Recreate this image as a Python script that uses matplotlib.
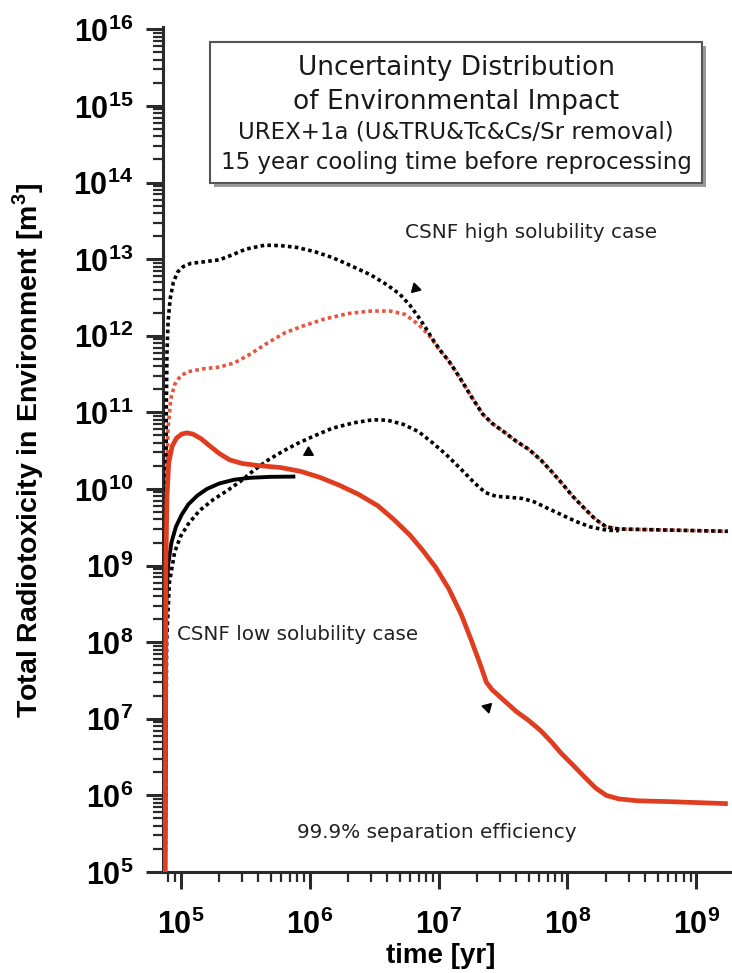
import math
import matplotlib
matplotlib.use('Agg')
import matplotlib.pyplot as plt
from matplotlib.ticker import LogLocator, FuncFormatter, NullFormatter
from matplotlib.patches import Rectangle

plt.rcParams['mathtext.fontset'] = 'custom'
plt.rcParams['mathtext.bf'] = 'Liberation Sans:bold'
plt.rcParams['mathtext.rm'] = 'Liberation Sans'

RED = '#e03c1f'; RED_DOT = '#e8553f'; AXC = '#2a2a2a'

# upper black dotted (high solubility, upper bound)
hi_t = [7.6e4, 7.65e4, 7.75e4, 7.85e4, 8.0e4, 8.3e4, 8.8e4, 9.5e4, 1.05e5, 1.2e5, 1.5e5, 2.0e5, 2.5e5,
        3.2e5, 4.5e5, 6e5, 8e5, 1.1e6, 1.5e6, 2.0e6, 3e6, 4e6, 5e6, 6e6, 7e6, 8e6, 9e6, 1.05e7,
        1.2e7, 1.45e7, 1.8e7, 2.2e7, 2.6e7, 3.2e7, 4e7, 5e7, 6.2e7, 7.5e7, 9e7, 1.1e8, 1.35e8, 1.65e8,
        2e8, 2.5e8, 4e8, 1.75e9]
hi_v = [1e5, 1e9, 1e11, 6e11, 1.5e12, 3e12, 5e12, 6.8e12, 8e12, 8.8e12, 9.2e12, 9.8e12, 1.13e13,
        1.35e13, 1.52e13, 1.5e13, 1.42e13, 1.25e13, 1.05e13, 8.5e12, 6.2e12, 4.6e12, 3.5e12, 2.5e12,
        1.75e12, 1.25e12, 9e11, 6.2e11,
        4.7e11, 2.9e11, 1.6e11, 9.5e10, 7.2e10, 5.6e10, 4.2e10, 3.3e10, 2.4e10, 1.7e10, 1.2e10, 8e9,
        5.6e9, 4.0e9, 3.2e9, 3.0e9, 2.95e9, 2.8e9]
# red dotted
rd_t = [7.6e4, 7.7e4, 7.8e4, 8.0e4, 8.4e4, 9e4, 1.0e5, 1.15e5, 1.5e5, 2e5, 2.6e5, 3.5e5, 4.7e5, 6.5e5,
        9e5, 1.3e6, 2e6, 3e6, 4.2e6, 5.5e6, 7e6, 8.5e6, 1.0e7,
        1.2e7, 1.45e7, 1.8e7, 2.2e7, 2.6e7, 3.2e7, 4e7, 5e7, 6.2e7, 7.5e7, 9e7, 1.1e8, 1.35e8, 1.65e8,
        2e8, 2.5e8, 4e8, 1.75e9]
rd_v = [1e5, 1e9, 1e10, 6e10, 1.5e11, 2.3e11, 3.0e11, 3.4e11, 3.7e11, 3.9e11, 4.4e11, 5.8e11, 8.0e11,
        1.1e12, 1.35e12, 1.65e12, 1.95e12, 2.1e12, 2.1e12, 1.9e12, 1.4e12, 1.0e12, 6.8e11,
        4.7e11, 2.9e11, 1.6e11, 9.5e10, 7.2e10, 5.6e10, 4.2e10, 3.3e10, 2.4e10, 1.7e10, 1.2e10, 8e9,
        5.6e9, 4.0e9, 3.2e9, 3.0e9, 2.95e9, 2.8e9]
# lower black dotted
lo_t = [7.6e4, 7.8e4, 8.2e4, 9e4, 1.0e5, 1.15e5, 1.4e5, 1.8e5, 2.3e5, 2.9e5, 3.7e5, 4.8e5, 6.2e5, 8e5,
        1.05e6, 1.5e6, 2.2e6, 3.1e6, 4e6, 5.3e6, 7e6, 9e6, 1.15e7, 1.5e7, 1.9e7, 2.3e7, 2.8e7, 3.5e7,
        4.5e7, 5.5e7, 7e7, 9e7, 1.15e8, 1.5e8, 2e8, 2.5e8]
lo_v = [1e5, 1e8, 6e8, 1.5e9, 2.4e9, 3.5e9, 5.2e9, 7.3e9, 9.5e9, 1.25e10, 1.75e10, 2.4e10, 3.1e10, 3.9e10,
        4.8e10, 6.2e10, 7.3e10, 8.0e10, 7.9e10, 7.0e10, 5.6e10, 4.0e10, 2.8e10, 1.8e10, 1.2e10, 9.0e9,
        8.0e9, 7.8e9, 7.5e9, 6.8e9, 5.6e9, 4.6e9, 3.8e9, 3.2e9, 2.9e9, 2.85e9]
# black solid
bs_t = [7.6e4, 7.75e4, 8.0e4, 8.5e4, 9.2e4, 1.02e5, 1.15e5, 1.35e5, 1.6e5, 2e5, 2.6e5, 3.5e5, 5e5, 7.5e5]
bs_v = [1e5, 3e8, 1.0e9, 2.0e9, 3.2e9, 4.6e9, 6.3e9, 8.2e9, 1.0e10, 1.18e10, 1.32e10, 1.4e10, 1.44e10, 1.45e10]
# red solid
rs_t = [7.6e4, 7.7e4, 7.85e4, 8.1e4, 8.6e4, 9.3e4, 1.02e5, 1.12e5, 1.25e5, 1.45e5, 1.7e5, 2e5, 2.4e5,
        3e5, 4e5, 6e5, 8.5e5, 1.2e6, 1.7e6, 2.4e6, 3.4e6, 4.5e6, 6e6, 7.5e6, 9.5e6, 1.2e7, 1.5e7,
        1.8e7, 2.1e7, 2.35e7, 2.6e7, 3.2e7, 4e7, 5e7, 6.2e7, 7.5e7, 9e7, 1.1e8, 1.35e8, 1.65e8, 2e8,
        2.5e8, 3.5e8, 6e8, 1.75e9]
rs_v = [1e5, 1e9, 8e9, 2.2e10, 3.6e10, 4.6e10, 5.2e10, 5.4e10, 5.2e10, 4.5e10, 3.6e10, 2.9e10, 2.4e10,
        2.15e10, 2.02e10, 1.9e10, 1.7e10, 1.42e10, 1.12e10, 8.5e9, 6.0e9, 4.0e9, 2.5e9, 1.6e9, 9.5e8,
        5.0e8, 2.3e8, 1.05e8, 5.2e7, 3.0e7, 2.4e7, 1.75e7, 1.25e7, 9.5e6, 7.0e6, 5.0e6, 3.5e6, 2.5e6,
        1.75e6, 1.25e6, 1.0e6, 9.0e5, 8.5e5, 8.3e5, 7.8e5]
# small pointer marks on three curves
mk_t = [6.6e6, 9.7e5, 2.38e7]
mk_v = [4.2e12, 3.0e10, 1.43e7]
mk_rot = [135, 0, -45]

box_lines = ['Uncertainty Distribution', 'of Environmental Impact',
             'UREX+1a (U&TRU&Tc&Cs/Sr removal)', '15 year cooling time before reprocessing']

fig = plt.figure(figsize=(7.32, 9.73), dpi=100)
ax = fig.add_axes([163/732, 1-872/973, (730-163)/732, (872-27)/973])

dot = (0, (1.0, 0.9))
ax.plot(rd_t, rd_v, color=RED_DOT, lw=2.6, ls=dot, zorder=2)
ax.plot(hi_t, hi_v, color='black', lw=2.6, ls=(0.9, (1.0, 0.9)), zorder=3)
ax.plot(lo_t, lo_v, color='black', lw=2.6, ls=dot, zorder=3)
ax.plot(bs_t, bs_v, color='black', lw=2.8, zorder=3)
ax.plot(rs_t, rs_v, color=RED, lw=3.4, zorder=4, solid_capstyle='butt')
for t, v, r in zip(mk_t, mk_v, mk_rot):
    ax.plot(t, v, marker=(3, 0, r), color='black', ms=8, zorder=5)

ax.set_xscale('log'); ax.set_yscale('log')
ax.set_xlim(10**4.864, 10**9.26)
ax.set_ylim(1e5, 10**16.03)
ax.xaxis.set_major_locator(LogLocator(base=10, numticks=20))
ax.yaxis.set_major_locator(LogLocator(base=10, numticks=20))
ax.xaxis.set_minor_locator(LogLocator(base=10, subs=range(2, 10), numticks=20))
ax.yaxis.set_minor_locator(LogLocator(base=10, subs=range(2, 10), numticks=20))
fmt = FuncFormatter(lambda v, p: r'$\mathbf{10^{%d}}$' % round(math.log10(v)))
ax.xaxis.set_major_formatter(fmt); ax.yaxis.set_major_formatter(fmt)
ax.xaxis.set_minor_formatter(NullFormatter()); ax.yaxis.set_minor_formatter(NullFormatter())
ax.tick_params(which='major', length=12.5, width=2.2, color=AXC, labelsize=22)
ax.tick_params(which='minor', length=7, width=1.6, color=AXC)
ax.tick_params(axis='x', which='major', pad=14)
ax.tick_params(axis='y', which='major', pad=9)
ax.spines[['top', 'right']].set_visible(False)
for s in ('left', 'bottom'):
    ax.spines[s].set_linewidth(2.2); ax.spines[s].set_color(AXC)

ax.set_xlabel('time [yr]', fontsize=20, fontweight='bold', family='Liberation Sans')
ax.xaxis.set_label_coords((441-163)/567, -(943-872)/845)
ax.set_ylabel(r'Total Radiotoxicity in Environment [m$^\mathbf{3}$]', fontsize=20.5,
              fontweight='bold', family='Liberation Sans')
ax.yaxis.set_label_coords((46-163)/567, (872-450)/845)

fig.text(531/732, 1-233/973, 'CSNF high solubility case', ha='center', va='center',
         fontsize=14.4, color='#222222')
fig.text(177/732, 1-635/973, 'CSNF low solubility case', ha='left', va='center',
         fontsize=14.3, color='#222222')
fig.text(437/732, 1-832/973, '99.9% separation efficiency', ha='center', va='center',
         fontsize=14.4, color='#222222')

# title box with drop shadow
bx0, by0, bx1, by1 = 210, 42, 702, 183
fig.patches.append(Rectangle(((bx0+4)/732, 1-(by1+4)/973), (bx1-bx0)/732, (by1-by0)/973,
                             transform=fig.transFigure, facecolor='#9a9a9a', edgecolor='none', zorder=8))
fig.patches.append(Rectangle((bx0/732, 1-by1/973), (bx1-bx0)/732, (by1-by0)/973,
                             transform=fig.transFigure, facecolor='white', edgecolor='#555555', lw=1.5, zorder=9))
for txt, yy, fs in zip(box_lines, [68, 102, 132, 162], [19, 19, 16.5, 16.5]):
    fig.text(456/732, 1-yy/973, txt, ha='center', va='center', fontsize=fs, color='#1a1a1a', zorder=10)

fig.savefig('out.png', dpi=100, facecolor='white')
